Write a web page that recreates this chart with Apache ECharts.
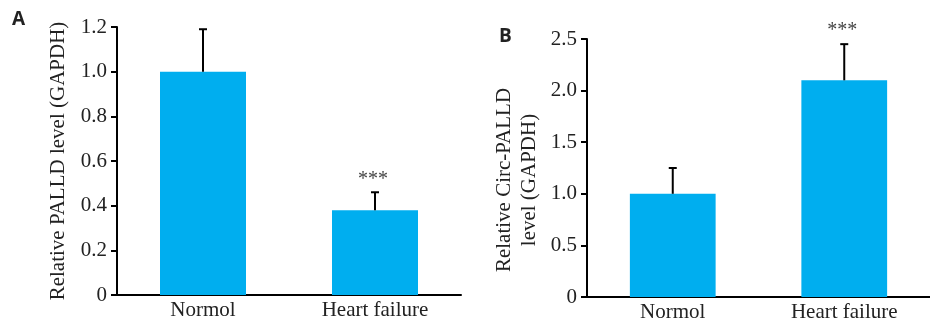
<!DOCTYPE html>
<html>
<head>
<meta charset="utf-8">
<script src="https://cdn.jsdelivr.net/npm/echarts@6/dist/echarts.min.js"></script>
<style>
  html, body { margin: 0; padding: 0; background: #fff; }
  #chart { width: 930px; height: 326px; }
</style>
</head>
<body>
<div id="chart"></div>
<script>
var categories = ['Normol', 'Heart failure'];
// panel A: PALLD
var palldMean = [1.0, 0.38];
var palldErr = [0.19, 0.08];
// panel B: circ-PALLD
var circMean = [1.0, 2.1];
var circErr = [0.25, 0.35];
var signif = ['', '***'];

var chart = echarts.init(document.getElementById('chart'));
var serif = '"Liberation Serif", "Times New Roman", serif';
var barColor = '#00aeef';

function tickFmt(v) {
    return v === 0 ? '0' : v.toFixed(1);
}

function errData(mean, err) {
    return mean.map(function (m, i) { return [i, m, err[i]]; });
}

function renderErr(params, api) {
    var x = api.value(0), m = api.value(1), e = api.value(2);
    var star = signif[params.dataIndex];
    var p0 = api.coord([x, m]);
    var p1 = api.coord([x, m + e]);
    var st = { stroke: '#000', lineWidth: 2 };
    var kids = [
        { type: 'line', shape: { x1: p0[0], y1: p0[1], x2: p1[0], y2: p1[1] }, style: st },
        { type: 'line', shape: { x1: p1[0] - 4, y1: p1[1], x2: p1[0] + 4, y2: p1[1] }, style: st }
    ];
    if (star) {
        kids.push({
            type: 'text',
            style: {
                text: star, x: p1[0] - 2, y: p1[1] - 3,
                align: 'center', verticalAlign: 'bottom',
                font: '20px ' + serif, fill: '#444'
            }
        });
    }
    return { type: 'group', children: kids };
}

function yAxisCommon(max, interval, name) {
    return {
        type: 'value',
        min: 0, max: max, interval: interval,
        name: name,
        nameLocation: 'middle',
        nameTextStyle: { fontFamily: serif, fontSize: 21, color: '#222', lineHeight: 25 },
        axisLine: { show: true, lineStyle: { color: '#000', width: 2 } },
        axisTick: { show: true, length: 6, lineStyle: { color: '#000', width: 2 } },
        axisLabel: { formatter: tickFmt, fontFamily: serif, fontSize: 21, color: '#222', margin: 10 },
        splitLine: { show: false }
    };
}

function xAxisCommon(gi) {
    return {
        type: 'category', gridIndex: gi, data: categories,
        axisLine: { lineStyle: { color: '#000', width: 2 } },
        axisTick: { alignWithLabel: true, length: 5, lineStyle: { color: '#000', width: 2 } },
        axisLabel: { fontFamily: serif, fontSize: 21, color: '#222', margin: 5 }
    };
}

var yA = yAxisCommon(1.2, 0.2, 'Relative PALLD level (GAPDH)');
yA.gridIndex = 0;
yA.nameGap = 46;
var yB = yAxisCommon(2.5, 0.5, 'Relative Circ-PALLD\nlevel (GAPDH)');
yB.gridIndex = 1;
yB.nameGap = 45;
yB.nameTextStyle.padding = [0, 24, 0, 0];

var option = {
    animation: false,
    backgroundColor: '#fff',
    grid: [
        { left: 117, top: 27, width: 344, height: 268 },
        { left: 587, top: 39, width: 354, height: 258 }
    ],
    xAxis: [xAxisCommon(0), xAxisCommon(1)],
    yAxis: [yA, yB],
    graphic: [
        { type: 'text', left: 12, top: 10, style: { text: 'A', font: 'bold 19px "Open Sans", sans-serif', fill: '#222' } },
        { type: 'text', left: 499, top: 27, style: { text: 'B', font: 'bold 19px "Open Sans", sans-serif', fill: '#222' } }
    ],
    series: [
        {
            type: 'bar', xAxisIndex: 0, yAxisIndex: 0, data: palldMean,
            barWidth: '50%', itemStyle: { color: barColor }
        },
        {
            type: 'custom', xAxisIndex: 0, yAxisIndex: 0, data: errData(palldMean, palldErr),
            renderItem: renderErr, z: 3
        },
        {
            type: 'bar', xAxisIndex: 1, yAxisIndex: 1, data: circMean,
            barWidth: '50%', itemStyle: { color: barColor }
        },
        {
            type: 'custom', xAxisIndex: 1, yAxisIndex: 1, data: errData(circMean, circErr),
            renderItem: renderErr, z: 3
        }
    ]
};

chart.setOption(option);
</script>
</body>
</html>
